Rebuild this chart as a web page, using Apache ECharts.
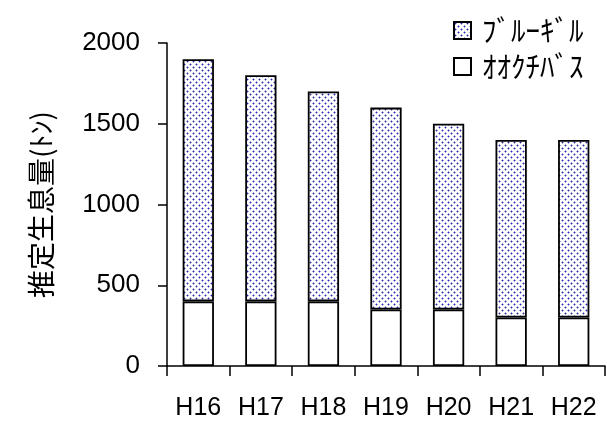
<!DOCTYPE html>
<html>
<head>
<meta charset="utf-8">
<script src="https://cdn.jsdelivr.net/npm/echarts@6/dist/echarts.min.js"></script>
<style>
  html, body { margin: 0; padding: 0; background: #fff; }
  #chart { width: 607px; height: 423px; }
</style>
</head>
<body>
<div id="chart"></div>
<script>
// Fiscal years (Heisei)
const categories = ['H16', 'H17', 'H18', 'H19', 'H20', 'H21', 'H22'];
// Estimated biomass (tonnes) per species, stacked
const largemouthBass = [400, 400, 400, 350, 350, 300, 300];
const bluegill = [1500, 1400, 1300, 1250, 1150, 1100, 1100];
const yTicks = { min: 0, max: 2000, interval: 500 };
const seriesNames = { bass: 'ｵｵｸﾁﾊﾞｽ', gill: 'ﾌﾞﾙｰｷﾞﾙ' };
const yTitle = '推定生息量(ﾄﾝ)';

const JP_FONT = '"Noto Sans CJK JP", sans-serif';
const NUM_FONT = '"Liberation Sans", Arial, sans-serif';

// Dotted fill tile for the bluegill segment
function dotPattern() {
  const c = document.createElement('canvas');
  c.width = 6; c.height = 6;
  const g = c.getContext('2d');
  g.fillStyle = '#ffffff';
  g.fillRect(0, 0, 6, 6);
  g.fillStyle = '#a4a4dc';
  g.fillRect(0, 1, 3, 1);
  g.fillRect(1, 0, 1, 3);
  g.fillRect(3, 4, 3, 1);
  g.fillRect(4, 3, 1, 3);
  g.fillStyle = '#2a2aa8';
  g.fillRect(1, 1, 1, 1);
  g.fillRect(4, 4, 1, 1);
  return c;
}
const pattern = { image: dotPattern(), repeat: 'repeat' };

const chart = echarts.init(document.getElementById('chart'), null, { renderer: 'canvas' });
chart.setOption({
  animation: false,
  backgroundColor: '#ffffff',
  grid: { left: 167, right: 2, top: 43, bottom: 57, containLabel: false },
  legend: {
    orient: 'vertical',
    left: 448,
    top: 11,
    itemGap: 7,
    itemWidth: 17,
    itemHeight: 17,
    icon: 'rect',
    textStyle: { fontFamily: JP_FONT, fontSize: 29, color: '#000', padding: [0, 0, 0, 6] },
    data: [seriesNames.gill, seriesNames.bass]
  },
  xAxis: {
    type: 'category',
    data: categories,
    axisLine: { lineStyle: { color: '#000', width: 1.5 } },
    axisTick: { show: true, length: 10, alignWithLabel: false, lineStyle: { color: '#000', width: 1.5 } },
    axisLabel: { color: '#000', fontFamily: NUM_FONT, fontSize: 25, margin: 30 }
  },
  yAxis: {
    type: 'value',
    min: yTicks.min,
    max: yTicks.max,
    interval: yTicks.interval,
    name: yTitle,
    nameLocation: 'middle',
    nameRotate: 90,
    nameGap: 112,
    nameTextStyle: { fontFamily: JP_FONT, fontSize: 28, color: '#000' },
    axisLine: { show: true, lineStyle: { color: '#000', width: 1.5 } },
    axisTick: { show: true, length: 9, lineStyle: { color: '#000', width: 1.5 } },
    splitLine: { show: false },
    axisLabel: {
      color: '#000', fontFamily: NUM_FONT, fontSize: 26, margin: 27,
      formatter: v => String(v)
    }
  },
  series: [
    {
      name: seriesNames.bass,
      type: 'bar',
      stack: 'total',
      barWidth: '50%',
      data: largemouthBass,
      itemStyle: { color: '#ffffff', borderColor: '#000', borderWidth: 1.8 }
    },
    {
      name: seriesNames.gill,
      type: 'bar',
      stack: 'total',
      barWidth: '50%',
      data: bluegill,
      itemStyle: { color: pattern, borderColor: '#000', borderWidth: 1.8 }
    }
  ]
});
</script>
</body>
</html>
